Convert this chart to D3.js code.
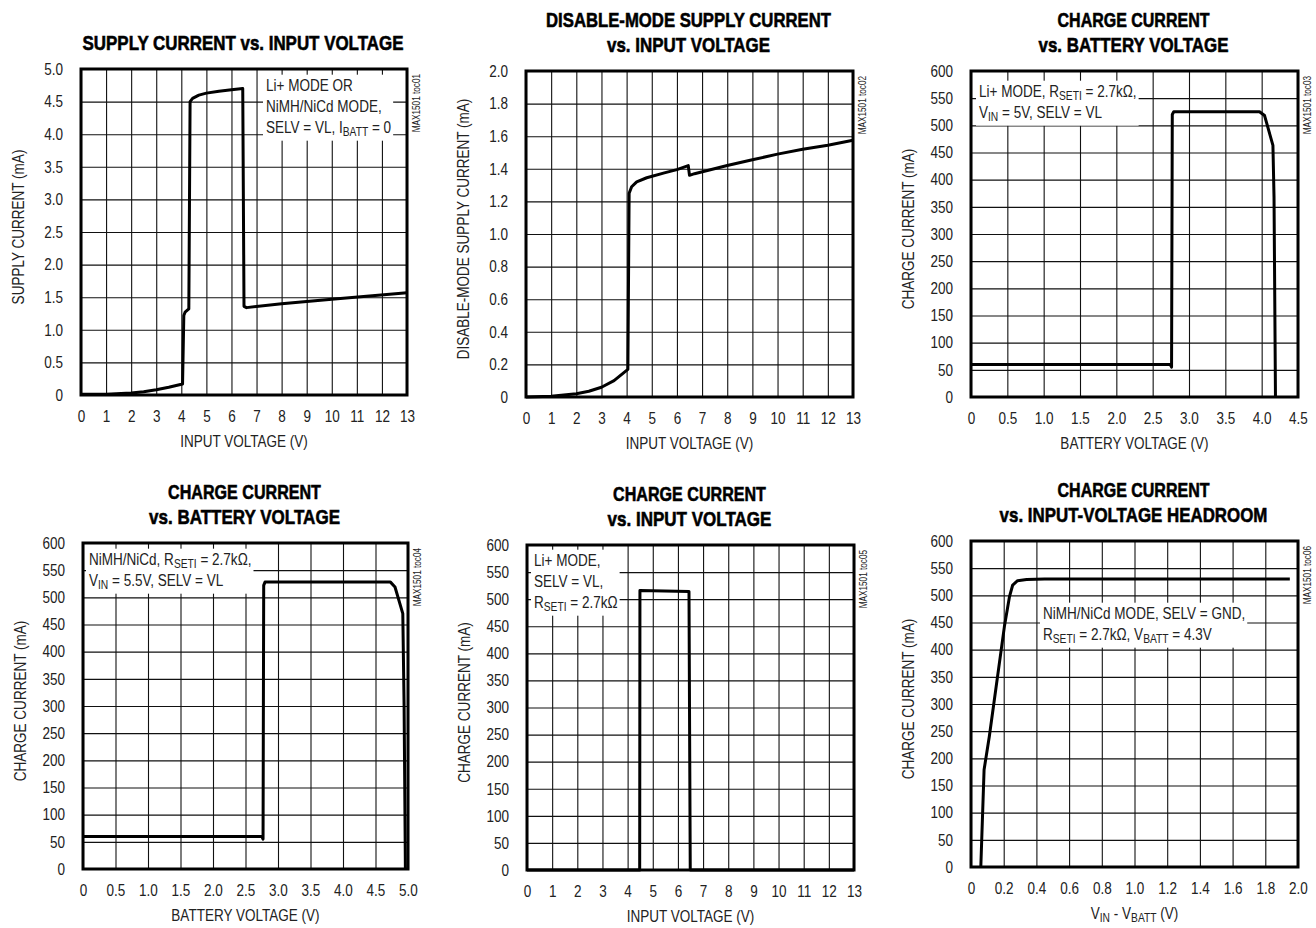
<!DOCTYPE html>
<html>
<head>
<meta charset="utf-8">
<script src="https://cdn.jsdelivr.net/npm/d3@7"></script>
<style>
  body { margin: 0; background: #fff; }
  svg text { font-family: "Liberation Sans", Arial, sans-serif; fill: #222; }
  .title { font-weight: bold; fill: #000; font-size: 21px; stroke: #000; stroke-width: 0.6px; }
</style>
</head>
<body>
<svg id="chart" width="1316" height="928"></svg>
<script>
// values (MAX1501 toc01..toc06)

// toc01 supply current vs input voltage
const p1Vin     = [0, 1, 2, 2.5, 3, 3.5, 4.05, 4.1, 4.15, 4.3, 4.35, 4.45, 4.7, 5, 5.5, 6, 6.45, 6.5, 6.6, 8, 10, 13];
const p1Current = [0.01, 0.01, 0.03, 0.05, 0.08, 0.12, 0.17, 1.22, 1.27, 1.32, 4.5, 4.55, 4.6, 4.63, 4.66, 4.68, 4.70, 1.36, 1.34, 1.40, 1.47, 1.57];

// toc02 disable-mode supply current vs input voltage
const p2Vin     = [0, 1, 2, 2.5, 3, 3.5, 4.05, 4.1, 4.2, 4.4, 4.8, 5.5, 6.0, 6.45, 6.5, 6.7, 8, 9, 10, 11, 12, 13];
const p2Current = [0, 0.005, 0.02, 0.035, 0.06, 0.1, 0.17, 1.25, 1.29, 1.32, 1.345, 1.375, 1.395, 1.42, 1.36, 1.37, 1.42, 1.455, 1.49, 1.52, 1.545, 1.575];

// toc03 charge current vs battery voltage, Li+ mode
const p3Vbatt   = [0, 2.74, 2.76, 2.77, 2.79, 3.97, 4.04, 4.155, 4.17, 4.19];
const p3Charge  = [60, 60, 55, 520, 525, 525, 518, 463, 368, 0];

// toc04 charge current vs battery voltage, NiMH/NiCd
const p4Vbatt   = [0, 2.75, 2.77, 2.78, 2.80, 4.73, 4.80, 4.92, 4.94, 4.96];
const p4Charge  = [60, 60, 55, 522, 528, 528, 519, 470, 300, 0];

// toc05 charge current vs input voltage
const p5Vin     = [0, 4.48, 4.49, 6.44, 6.49, 13];
const p5Charge  = [0, 0, 516, 514, 0, 0];

// toc06 charge current vs input-voltage headroom
const p6Headroom = [0.06, 0.08, 0.112, 0.204, 0.235, 0.255, 0.285, 0.34, 0.45, 1.95];
const p6Charge   = [0, 179, 240, 442, 497, 519, 527, 529, 530, 530];

// tick values
const voltTicks13   = d3.range(0, 14);
const supplyTicks   = d3.range(0, 11).map(i => i * 0.5);
const disableTicks  = d3.range(0, 11).map(i => i * 0.2);
const chargeTicks   = d3.range(0, 13).map(i => i * 50);
const battTicks45   = d3.range(0, 10).map(i => i * 0.5);
const battTicks5    = d3.range(0, 11).map(i => i * 0.5);
const headroomTicks = d3.range(0, 11).map(i => i * 0.2);

const zip = (xs, ys) => xs.map((v, i) => [v, ys[i]]);

// layout of the six panels ([left, top, width, height] of the plot frame)
const panels = [
  { box: [81, 69, 326, 326], toc: "MAX1501 toc01",
    title: ["SUPPLY CURRENT vs. INPUT VOLTAGE"], titleW: [321],
    xLabel: "INPUT VOLTAGE (V)", yLabel: "SUPPLY CURRENT (mA)",
    xTicks: voltTicks13, xDec: 0, yTicks: supplyTicks, yDec: 1,
    points: zip(p1Vin, p1Current),
    note: { dx: 185, dy: 22, lines: ["Li+ MODE OR", "NiMH/NiCd MODE,", "SELV = VL, I_{BATT} = 0"] } },
  { box: [526, 71, 327, 326], toc: "MAX1501 toc02",
    title: ["DISABLE-MODE SUPPLY CURRENT", "vs. INPUT VOLTAGE"], titleW: [285, 163],
    xLabel: "INPUT VOLTAGE (V)", yLabel: "DISABLE-MODE SUPPLY CURRENT (mA)",
    xTicks: voltTicks13, xDec: 0, yTicks: disableTicks, yDec: 1,
    points: zip(p2Vin, p2Current) },
  { box: [971, 71, 327, 326], toc: "MAX1501 toc03",
    title: ["CHARGE CURRENT", "vs. BATTERY VOLTAGE"], titleW: [152, 190],
    xLabel: "BATTERY VOLTAGE (V)", yLabel: "CHARGE CURRENT (mA)",
    xTicks: battTicks45, xDec: 1, yTicks: chargeTicks, yDec: 0,
    points: zip(p3Vbatt, p3Charge),
    note: { dx: 8, dy: 26, lines: ["Li+ MODE, R_{SETI} = 2.7k\u03A9,", "V_{IN} = 5V, SELV = VL"] } },
  { box: [83, 543, 325, 326], toc: "MAX1501 toc04",
    title: ["CHARGE CURRENT", "vs. BATTERY VOLTAGE"], titleW: [153, 191],
    xLabel: "BATTERY VOLTAGE (V)", yLabel: "CHARGE CURRENT (mA)",
    xTicks: battTicks5, xDec: 1, yTicks: chargeTicks, yDec: 0,
    points: zip(p4Vbatt, p4Charge),
    note: { dx: 6, dy: 22, lines: ["NiMH/NiCd, R_{SETI} = 2.7k\u03A9,", "V_{IN} = 5.5V, SELV = VL"] } },
  { box: [527, 545, 327, 325], toc: "MAX1501 toc05",
    title: ["CHARGE CURRENT", "vs. INPUT VOLTAGE"], titleW: [153, 164],
    xLabel: "INPUT VOLTAGE (V)", yLabel: "CHARGE CURRENT (mA)",
    xTicks: voltTicks13, xDec: 0, yTicks: chargeTicks, yDec: 0,
    points: zip(p5Vin, p5Charge),
    note: { dx: 7, dy: 21, lines: ["Li+ MODE,", "SELV = VL,", "R_{SETI} = 2.7k\u03A9"] } },
  { box: [971, 541, 327, 326], toc: "MAX1501 toc06",
    title: ["CHARGE CURRENT", "vs. INPUT-VOLTAGE HEADROOM"], titleW: [152, 268],
    xLabel: "V_{IN} - V_{BATT} (V)", yLabel: "CHARGE CURRENT (mA)",
    xTicks: headroomTicks, xDec: 1, yTicks: chargeTicks, yDec: 0,
    points: zip(p6Headroom, p6Charge),
    note: { dx: 72, dy: 78, lines: ["NiMH/NiCd MODE, SELV = GND,", "R_{SETI} = 2.7k\u03A9, V_{BATT} = 4.3V"] } }
];

const fontSize = 16.5;
const subSize = 12.5;
const subShift = 3.5;
const lineHeight = 21;
const squeeze = 0.82;      // Arial -> narrow face

const svg = d3.select("#chart");
panels.forEach(drawPanel);

function fmt(dec) {
  return d => d === 0 ? "0" : d.toFixed(dec);
}

// squeeze a text horizontally (along its own direction) to mimic a condensed face
function narrow(sel, k) {
  sel.each(function() {
    const t = d3.select(this);
    const kk = typeof k === "function" ? k(this) : k;
    const x0 = +(t.attr("x") || 0);
    const tr = t.attr("transform") || "";
    t.attr("x", x0 / kk).attr("transform", `${tr} scale(${kk},1)`);
  });
}

// writes "A_{sub} B" style text as tspans into a text element
function richText(textSel, str) {
  const parts = str.split(/(_\{[^}]*\})/).filter(s => s.length);
  let shift = 0;
  parts.forEach(s => {
    const isSub = s.startsWith("_{");
    const ts = textSel.append("tspan").text(isSub ? s.slice(2, -1) : s);
    if (isSub) {
      ts.attr("dy", subShift).style("font-size", subSize + "px");
      shift = subShift;
    } else if (shift) {
      ts.attr("dy", -shift);
      shift = 0;
    }
  });
  return textSel;
}

function drawPanel(p) {
  const [bx, by, bw, bh] = p.box;
  const g = svg.append("g").attr("transform", `translate(${bx},${by})`);

  const x = d3.scaleLinear()
    .domain([p.xTicks[0], p.xTicks[p.xTicks.length - 1]])
    .range([0, bw]);
  const y = d3.scaleLinear()
    .domain([p.yTicks[0], p.yTicks[p.yTicks.length - 1]])
    .range([bh, 0]);

  g.append("rect").attr("width", bw).attr("height", bh).attr("fill", "#fff");

  // grid lines and tick labels
  const xAxis = g.append("g").attr("class", "x-axis")
    .attr("transform", `translate(0,${bh})`)
    .call(d3.axisBottom(x).tickValues(p.xTicks).tickFormat(fmt(p.xDec))
      .tickSize(-bh).tickPadding(15));
  const yAxis = g.append("g").attr("class", "y-axis")
    .call(d3.axisLeft(y).tickValues(p.yTicks).tickFormat(fmt(p.yDec))
      .tickSize(-bw).tickPadding(18));

  [xAxis, yAxis].forEach(a => {
    a.attr("font-family", null).attr("font-size", null);
    a.select(".domain").remove();
    a.selectAll(".tick line").attr("stroke", "#111").attr("stroke-width", 1.1);
    a.selectAll(".tick text").attr("fill", null).style("font-size", fontSize + "px")
      .call(narrow, squeeze);
  });

  // annotation with white backing
  if (p.note) {
    const ng = g.append("g").attr("class", "note");
    p.note.lines.forEach((line, i) => {
      ng.append("text")
        .attr("x", p.note.dx).attr("y", p.note.dy + i * lineHeight)
        .style("font-size", fontSize + "px")
        .call(richText, line)
        .call(narrow, squeeze);
    });
    let x0 = Infinity, y0 = Infinity, x1 = -Infinity, y1 = -Infinity;
    ng.selectAll("text").each(function() {
      const b = this.getBBox();
      x0 = Math.min(x0, b.x * squeeze); x1 = Math.max(x1, (b.x + b.width) * squeeze);
      y0 = Math.min(y0, b.y); y1 = Math.max(y1, b.y + b.height);
    });
    ng.insert("rect", "text")
      .attr("x", x0 - 3).attr("y", y0 - 1)
      .attr("width", x1 - x0 + 5).attr("height", y1 - y0 + 3)
      .attr("fill", "#fff");
  }

  // measured curve
  const line = d3.line().x(d => x(d[0])).y(d => y(d[1]));
  g.append("path")
    .datum(p.points)
    .attr("d", line)
    .attr("fill", "none")
    .attr("stroke", "#000")
    .attr("stroke-width", 3)
    .attr("stroke-linejoin", "round");

  // frame
  g.append("rect").attr("width", bw).attr("height", bh)
    .attr("fill", "none").attr("stroke", "#000").attr("stroke-width", 3);

  // titles, squeezed to the widths of the heavy condensed face
  p.title.forEach((tl, i) => {
    g.append("text").attr("class", "title")
      .attr("x", bw / 2 - 1)
      .attr("y", -19.5 - (p.title.length - 1 - i) * 25)
      .attr("text-anchor", "middle")
      .text(tl)
      .call(narrow, node => p.titleW[i] / node.getComputedTextLength());
  });

  // axis labels
  g.append("text")
    .attr("x", bw / 2).attr("y", bh + 52)
    .attr("text-anchor", "middle")
    .style("font-size", fontSize + "px")
    .call(richText, p.xLabel)
    .call(narrow, squeeze);

  g.append("text")
    .attr("transform", `translate(-57,${bh / 2 - 5}) rotate(-90)`)
    .attr("text-anchor", "middle")
    .style("font-size", fontSize + "px")
    .text(p.yLabel)
    .call(narrow, squeeze);

  // figure id on the right edge
  g.append("text")
    .attr("transform", `translate(${bw + 12.5},5) rotate(-90)`)
    .attr("text-anchor", "end")
    .style("font-size", "10px")
    .attr("fill", "#333")
    .text(p.toc)
    .call(narrow, squeeze);
}
</script>
</body>
</html>
